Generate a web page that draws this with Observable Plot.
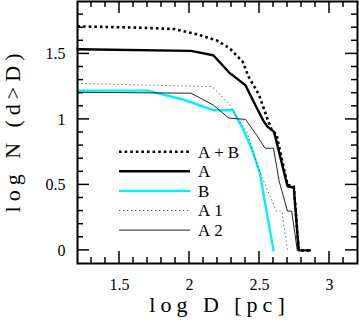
<!DOCTYPE html>
<html><head><meta charset="utf-8">
<script src="https://cdn.jsdelivr.net/npm/d3@7"></script>
<script src="https://cdn.jsdelivr.net/npm/@observablehq/plot@0.6"></script>
<style>body{margin:0;background:#fff} #chart{width:359px;height:331px;position:relative}</style>
</head><body><div id="chart"></div>
<script>
// ---- data (log D, log N) ----
const abX = [1.2, 1.65, 1.89, 2.055, 2.20, 2.29, 2.38, 2.42, 2.495, 2.555, 2.59, 2.62, 2.70, 2.745, 2.78, 2.86];
const abY = [1.71, 1.70, 1.69, 1.65, 1.60, 1.54, 1.44, 1.33, 1.19, 1.01, 0.91, 0.89, 0.50, 0.49, 0, 0];
const aX = [1.2, 2.01, 2.17, 2.29, 2.305, 2.40, 2.47, 2.53, 2.555, 2.60, 2.61, 2.70, 2.745, 2.78, 2.86];
const aY = [1.535, 1.523, 1.49, 1.35, 1.34, 1.26, 1.11, 0.985, 0.947, 0.909, 0.88, 0.49, 0.48, 0, 0];
const bX = [1.2, 1.70, 1.96, 2.17, 2.31, 2.39, 2.45, 2.50, 2.60];
const bY = [1.22, 1.22, 1.15, 1.07, 1.07, 0.91, 0.76, 0.60, 0];
const a1X = [1.2, 2.16, 2.22, 2.29, 2.34, 2.41, 2.48, 2.53, 2.62, 2.66, 2.70];
const a1Y = [1.275, 1.25, 1.19, 1.11, 1.01, 0.91, 0.66, 0.53, 0.30, 0.30, 0];
const a2X = [1.2, 2.01, 2.17, 2.28, 2.40, 2.48, 2.54, 2.60, 2.64, 2.70, 2.73, 2.77];
const a2Y = [1.207, 1.20, 1.11, 1.01, 1.0, 0.88, 0.78, 0.78, 0.53, 0.30, 0.30, 0];
const seriesNames = ["A+B", "A", "B", "A1", "A2"];
const xTickLabels = [1.5, 2, 2.5, 3];
const yTickLabels = [0, 0.5, 1, 1.5];
const xMinorTicks = [1.3,1.4,1.6,1.7,1.8,1.9,2.1,2.2,2.3,2.4,2.6,2.7,2.8,2.9,3.1];
const yMinorTicks = [0.1,0.2,0.3,0.4,0.6,0.7,0.8,0.9,1.1,1.2,1.3,1.4,1.6,1.7,1.8];

// ---- styles ----
const styles = {
  "A+B": {stroke: "#000", strokeWidth: 2.6, strokeDasharray: "2.6,3", strokeLinecap: "butt"},
  "A":   {stroke: "#000", strokeWidth: 2.4},
  "B":   {stroke: "#00f0ff", strokeWidth: 2.4},
  "A1":  {stroke: "#555", strokeWidth: 1, strokeDasharray: "1.2,2.8", strokeLinecap: "butt"},
  "A2":  {stroke: "#222", strokeWidth: 1}
};
const rows = (xs, ys) => xs.map((x, i) => ({x, y: ys[i]}));
const series = {"A+B": rows(abX, abY), "A": rows(aX, aY), "B": rows(bX, bY), "A1": rows(a1X, a1Y), "A2": rows(a2X, a2Y)};

const serif = "'Liberation Serif', serif";

const plot = Plot.plot({
  width: 359, height: 331,
  marginLeft: 77, marginRight: 2, marginTop: 1, marginBottom: 68,
  x: {domain: [1.2, 3.2]},
  y: {domain: [-0.1, 1.9]},
  style: {fontFamily: serif, background: "white", color: "black"},
  marks: [
    Plot.axisX(xTickLabels, {anchor: "bottom", tickSize: 0, tickPadding: 15, fontSize: 16, label: null, tickFormat: d => String(d)}),
    Plot.axisY(yTickLabels, {anchor: "left", tickSize: 0, tickPadding: 12, fontSize: 16, label: null, tickFormat: d => String(d)}),
    ...seriesNames.map(n => Plot.line(series[n], {x: "x", y: "y", ...styles[n]})),
    Plot.frame({stroke: "#000", strokeWidth: 2}),
    Plot.text(["log D [pc]"], {frameAnchor: "bottom", textAnchor: "middle", dy: 48, dx: 2, fontSize: 22}),
    Plot.text(["log N (d>D)"], {frameAnchor: "left", textAnchor: "middle", rotate: -90, dx: -65, dy: -2, fontSize: 22})
  ]
});
document.getElementById("chart").appendChild(plot);
const svg = d3.select(plot);

// inward ticks on all four sides, placed with the plot's own scales
const sx = plot.scale("x"), sy = plot.scale("y");
const [fx0, fx1] = sx.range, [fy0, fy1] = sy.range; // fy0 bottom, fy1 top
const tg = svg.insert("g", ":first-child").attr("stroke", "#000").attr("stroke-width", 1.5);
for (const [vals, len] of [[xMinorTicks, 6], [xTickLabels, 12]]) {
  for (const v of vals) {
    const px = sx.apply(v);
    tg.append("line").attr("x1", px).attr("x2", px).attr("y1", fy0).attr("y2", fy0 - len);
    tg.append("line").attr("x1", px).attr("x2", px).attr("y1", fy1).attr("y2", fy1 + len);
  }
}
for (const [vals, len] of [[yMinorTicks, 6], [yTickLabels, 12]]) {
  for (const v of vals) {
    const py = sy.apply(v);
    tg.append("line").attr("y1", py).attr("y2", py).attr("x1", fx0).attr("x2", fx0 + len);
    tg.append("line").attr("y1", py).attr("y2", py).attr("x1", fx1).attr("x2", fx1 - len);
  }
}

// ---- legend ----
const lg = svg.append("g").attr("font-size", 17).attr("text-anchor", "start");
seriesNames.forEach((n, i) => {
  const y = 151.7 + i * 19.6;
  const s = styles[n];
  lg.append("line").attr("x1", 119).attr("x2", 190).attr("y1", y).attr("y2", y)
    .attr("stroke", s.stroke).attr("stroke-width", s.strokeWidth)
    .attr("stroke-dasharray", s.strokeDasharray || null)
    .attr("stroke-linecap", s.strokeLinecap || "butt");
  lg.append("text").attr("x", 198).attr("y", y).attr("dy", "0.35em")
    .style("letter-spacing", "4px").text(n);
});

// force the serif face on every text
svg.selectAll("text").style("font-family", serif);
svg.selectAll("text").filter(function(){ return /log/.test(this.textContent); }).style("letter-spacing", "5px");
</script>
</body></html>
